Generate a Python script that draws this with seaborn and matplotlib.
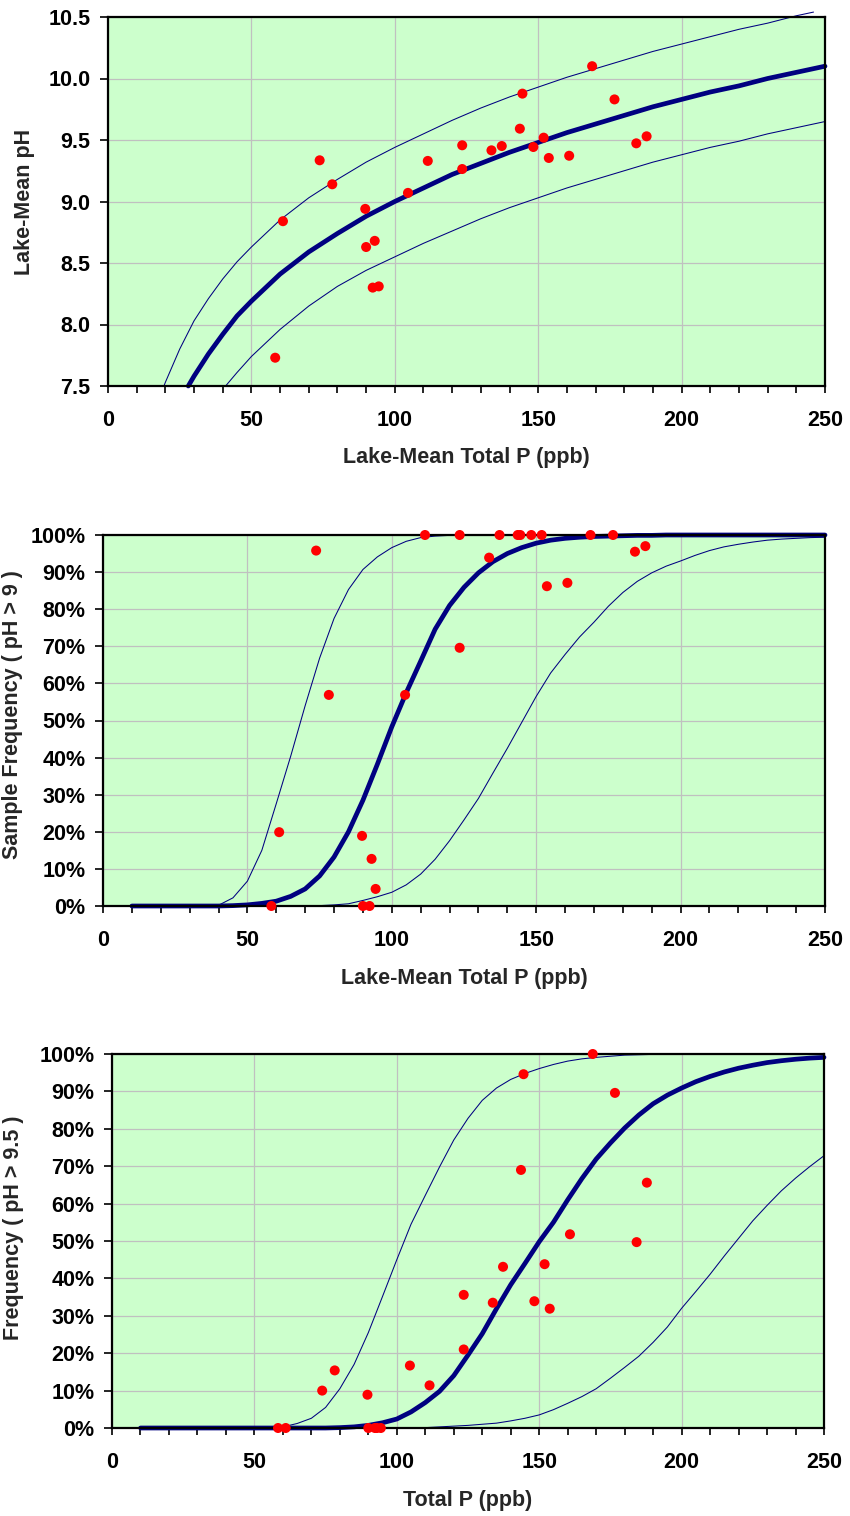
import matplotlib
matplotlib.use("Agg")
import matplotlib.pyplot as plt
import seaborn as sns
from matplotlib.ticker import MultipleLocator, FuncFormatter

# ---- lake observations ----
lake_tp = [58.3, 61.0, 73.8, 78.2, 89.7, 90.0, 92.3, 93.0, 94.4, 104.6,
           111.5, 123.5, 123.5, 133.7, 137.3, 143.6, 144.5, 148.3, 151.9, 153.7,
           160.8, 168.8, 176.6, 184.2, 187.8]
lake_ph = [7.73, 8.84, 9.335, 9.14, 8.94, 8.63, 8.30, 8.68, 8.31, 9.07,
           9.33, 9.457, 9.264, 9.416, 9.451, 9.592, 9.877, 9.443, 9.519, 9.354,
           9.372, 10.10, 9.83, 9.473, 9.53]
freq_ph9 = [0.0, 19.9, 95.8, 56.9, 18.9, 0.0, 0.0, 12.7, 4.6, 56.9,
            100.0, 100.0, 69.6, 93.9, 100.0, 100.0, 100.0, 100.0, 100.0, 86.2,
            87.1, 100.0, 100.0, 95.5, 97.0]
freq_ph95 = [0.0, 0.0, 10.0, 15.4, 8.9, 0.0, 0.0, 0.0, 0.0, 16.7,
             11.4, 35.6, 21.0, 33.5, 43.1, 69.0, 94.6, 33.9, 43.8, 31.9,
             51.8, 100.0, 89.6, 49.7, 65.6]

# ---- pH regression with prediction bounds ----
ph_fit_tp = [28, 30, 35, 40, 45, 50, 60, 70, 80, 90, 100, 110, 120, 130, 140,
             150, 160, 170, 180, 190, 200, 210, 220, 230, 240, 250]
ph_fit = [7.50, 7.58, 7.76, 7.92, 8.07, 8.19, 8.41, 8.59, 8.74, 8.88, 9.00, 9.11,
          9.22, 9.31, 9.40, 9.48, 9.56, 9.63, 9.70, 9.77, 9.83, 9.89, 9.94, 10.00,
          10.05, 10.10]
ph_upper_tp = [19.5, 20, 25, 30, 35, 40, 45, 50, 60, 70, 80, 90, 100, 110, 120, 130,
               140, 150, 160, 170, 180, 190, 200, 210, 220, 230, 240, 246]
ph_upper = [7.50, 7.53, 7.80, 8.03, 8.21, 8.37, 8.51, 8.63, 8.85, 9.03, 9.18, 9.32,
            9.44, 9.55, 9.66, 9.76, 9.85, 9.93, 10.01, 10.08, 10.15, 10.22, 10.28,
            10.34, 10.40, 10.45, 10.51, 10.54]
ph_lower_tp = [41, 45, 50, 60, 70, 80, 90, 100, 110, 120, 130, 140, 150, 160, 170,
               180, 190, 200, 210, 220, 230, 240, 250]
ph_lower = [7.50, 7.61, 7.74, 7.96, 8.15, 8.31, 8.44, 8.55, 8.66, 8.76, 8.86, 8.95,
            9.03, 9.11, 9.18, 9.25, 9.32, 9.38, 9.44, 9.49, 9.55, 9.60, 9.65]

# ---- logistic frequency curves (percent) ----
curve_tp = [10, 15, 20, 25, 30, 35, 40, 45, 50, 55, 60, 65, 70, 75, 80, 85, 90, 95,
            100, 105, 110, 115, 120, 125, 130, 135, 140, 145, 150, 155, 160, 165,
            170, 175, 180, 185, 190, 195, 200, 205, 210, 215, 220, 225, 230, 235,
            240, 245, 250]
f9_fit = [0, 0, 0, 0, 0, 0, 0, 0.1, 0.3, 0.7, 1.3, 2.6, 4.6, 8.1, 13.2, 20.0, 28.5,
          38.2, 48.3, 57.5, 66.0, 74.6, 81.0, 85.9, 89.8, 92.8, 95.0, 96.6, 97.8,
          98.6, 99.1, 99.4, 99.6, 99.7, 99.8, 99.9, 99.9, 100, 100, 100, 100, 100,
          100, 100, 100, 100, 100, 100, 100]
f9_upper = [0, 0, 0, 0, 0, 0, 0.2, 2.2, 6.7, 15.0, 27.6, 40.4, 54.0, 66.8, 77.5,
            85.3, 90.7, 94.1, 96.6, 98.3, 99.3, 99.7, 99.9, 100, 100, 100, 100, 100,
            100, 100, 100, 100, 100, 100, 100, 100, 100, 100, 100, 100, 100, 100,
            100, 100, 100, 100, 100, 100, 100]
f9_lower = [0, 0, 0, 0, 0, 0, 0, 0, 0, 0, 0, 0, 0, 0.1, 0.3, 0.6, 1.5, 2.5, 3.7,
            5.7, 8.6, 12.6, 17.6, 23.2, 29.0, 35.8, 42.5, 49.5, 56.5, 62.8, 67.8,
            72.5, 76.5, 80.8, 84.5, 87.5, 89.8, 91.6, 93.0, 94.5, 95.8, 96.8, 97.5,
            98.1, 98.6, 98.9, 99.1, 99.3, 99.4]
f95_fit = [0, 0, 0, 0, 0, 0, 0, 0, 0, 0, 0, 0, 0, 0, 0.1, 0.3, 0.7, 1.4, 2.4, 4.3,
           6.8, 9.8, 14.0, 19.5, 25.2, 31.9, 38.3, 44.0, 49.8, 55.0, 61.0, 66.7,
           71.9, 76.2, 80.2, 83.7, 86.7, 89.0, 90.9, 92.6, 94.0, 95.2, 96.2, 97.0,
           97.7, 98.2, 98.6, 98.9, 99.1]
f95_upper = [0, 0, 0, 0, 0, 0, 0, 0, 0, 0, 0.3, 1.2, 2.6, 5.5, 10.5, 17.0, 25.5,
             35.2, 45.0, 54.5, 62.2, 69.8, 77.0, 82.8, 87.6, 90.9, 93.2, 94.8, 96.1,
             97.2, 98.1, 98.7, 99.1, 99.4, 99.7, 99.8, 99.9, 100, 100, 100, 100,
             100, 100, 100, 100, 100, 100, 100, 100]
f95_lower = [0, 0, 0, 0, 0, 0, 0, 0, 0, 0, 0, 0, 0, 0, 0, 0, 0, 0, 0, 0, 0.1, 0.3,
             0.5, 0.7, 1.0, 1.3, 1.9, 2.6, 3.5, 4.9, 6.6, 8.4, 10.5, 13.3, 16.2,
             19.2, 22.9, 27.0, 32.0, 36.5, 41.1, 46.0, 50.7, 55.4, 59.5, 63.4, 66.8,
             69.9, 72.8]

x_ticks = [0, 50, 100, 150, 200, 250]

# ---- styling ----
sns.set_style("ticks")
plt.rcParams["font.family"] = ["Liberation Sans", "DejaVu Sans"]
plt.rcParams["font.weight"] = "bold"
plt.rcParams["axes.labelweight"] = "bold"

FS = 15.5
NAVY = "#000080"
BG = "#ccffcc"
GRID = "#c0c0c0"

fig = plt.figure(figsize=(8.5, 15.16), dpi=100)
W, H = 850, 1516


def make_axes(left, right, top, bottom):
    return fig.add_axes([left / W, 1 - bottom / H, (right - left) / W, (bottom - top) / H])


ax1 = make_axes(108, 825, 17, 386)
ax2 = make_axes(103, 825, 535, 906)
ax3 = make_axes(112, 824, 1054, 1428)


def style(ax, ylabel, xlabel, ylab_xy, percent):
    ax.set_facecolor(BG)
    ax.set_axisbelow(True)
    ax.set_xlim(0, 250)
    ax.set_xticks(x_ticks)
    ax.xaxis.set_minor_locator(MultipleLocator(10))
    ax.grid(True, which="major", color=GRID, lw=0.9)
    for sp in ax.spines.values():
        sp.set_visible(True)
        sp.set_color("black")
        sp.set_linewidth(1.6)
    ax.tick_params(axis="x", which="both", direction="out", length=4.8, width=1.2,
                   top=False, labelsize=FS, pad=12.5, colors="black")
    ax.tick_params(axis="y", which="both", direction="out", length=6, width=1.2,
                   right=False, labelsize=FS, pad=6.5, colors="black")
    for lab in ax.get_xticklabels() + ax.get_yticklabels():
        lab.set_fontweight("bold")
    if percent:
        ax.set_ylim(0, 100)
        ax.yaxis.set_major_locator(MultipleLocator(10))
        ax.yaxis.set_major_formatter(FuncFormatter(lambda v, p: f"{v:.0f}%"))
    ax.set_ylabel(ylabel, fontsize=FS, fontweight="bold", va="center")
    ax.yaxis.set_label_coords(*ylab_xy)
    ax.set_xlabel(xlabel, fontsize=FS, fontweight="bold", va="center")
    ax.xaxis.set_label_coords(0.5, -0.195)


def curves(ax, xs_list, ys_list, widths, clip=True):
    for xs, ys, lw in zip(xs_list, ys_list, widths):
        sns.lineplot(x=xs, y=ys, ax=ax, color=NAVY, linewidth=lw,
                     estimator=None, sort=False, legend=False)
    for ln in ax.lines:
        ln.set_clip_on(clip)


def points(ax, ys):
    sns.scatterplot(x=lake_tp, y=ys, ax=ax, color="#ff0000", s=52,
                    edgecolor="none", linewidth=0, zorder=6, legend=False)
    for coll in ax.collections:
        coll.set_clip_on(False)


# Panel 1: lake-mean pH
curves(ax1, [ph_upper_tp, ph_lower_tp, ph_fit_tp], [ph_upper, ph_lower, ph_fit],
       [0.75, 0.75, 3.4], clip=False)
points(ax1, lake_ph)
ax1.set_ylim(7.5, 10.5)
ax1.yaxis.set_major_locator(MultipleLocator(0.5))
ax1.yaxis.set_major_formatter(FuncFormatter(lambda v, p: f"{v:.1f}"))
style(ax1, "Lake-Mean pH", "Lake-Mean Total P (ppb)", (-0.1158, 0.5), False)

# Panel 2: frequency of pH > 9
curves(ax2, [curve_tp, curve_tp, curve_tp], [f9_upper, f9_lower, f9_fit],
       [0.75, 0.75, 3.4], clip=False)
points(ax2, freq_ph9)
style(ax2, "Sample Frequency ( pH > 9 )", "Lake-Mean Total P (ppb)", (-0.1247, 0.517), True)

# Panel 3: frequency of pH > 9.5
curves(ax3, [curve_tp, curve_tp, curve_tp], [f95_upper, f95_lower, f95_fit],
       [0.75, 0.75, 3.4], clip=False)
points(ax3, freq_ph95)
style(ax3, "Frequency ( pH > 9.5 )", "Total P (ppb)", (-0.139, 0.535), True)

fig.savefig("out.png", dpi=100, facecolor="white")
